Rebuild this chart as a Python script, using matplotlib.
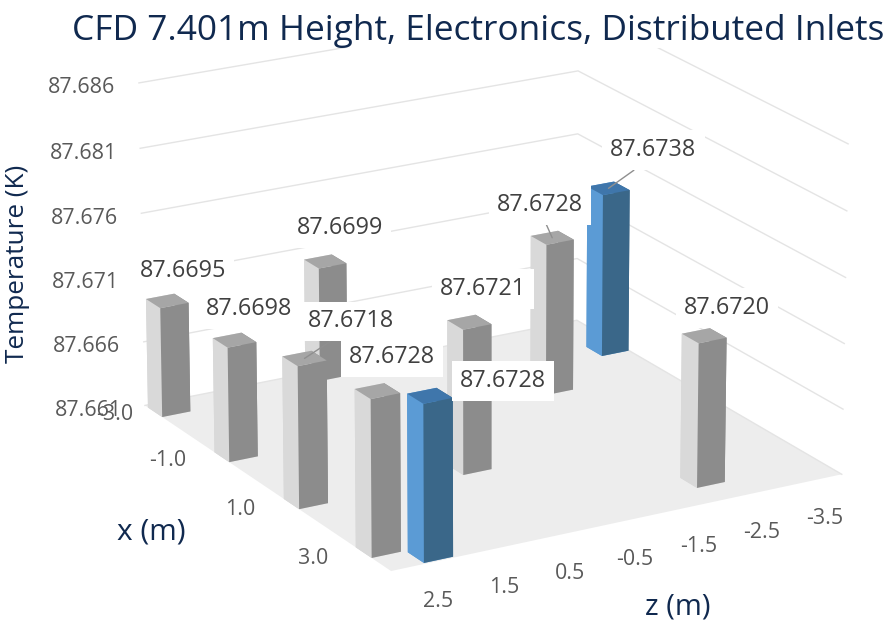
import numpy as np
import matplotlib
matplotlib.use("Agg")
import matplotlib.pyplot as plt
from matplotlib.patches import Rectangle
from mpl_toolkits.mplot3d import proj3d
from mpl_toolkits.mplot3d.art3d import Poly3DCollection

plt.rcParams["font.family"] = ["Open Sans", "DejaVu Sans"]

W, H = 888, 622

# probe locations and temperatures
bar_x = [-2.93, -0.99, 0.96, 2.91, 3.39, 0.96, -1.08, -2.02, 2.89, -3.09]
bar_z = [2.78, 2.78, 2.78, 2.78, 2.27, 0.25, -2.28, -3.77, -2.25, 0.20]
bar_temp = [87.6695, 87.6698, 87.6718, 87.6728, 87.6728, 87.6721, 87.6728, 87.6738, 87.6720, 87.6699]
highlight = [False, False, False, False, True, False, False, True, False, False]

temp_ticks = [87.661, 87.666, 87.671, 87.676, 87.681, 87.686]
x_ticks = [-3.0, -1.0, 1.0, 3.0]
z_ticks = [2.5, 1.5, 0.5, -0.5, -1.5, -2.5, -3.5]

# label placement relative to the top of each bar, in pixels (right, down)
label_dx = [16, 15, 47, 15, 73, 14, -12, 45, 23, 15]
label_dy = [-30, -31, -37, -34, -15, -33, -33, -38, -28, -33]
has_leader = [False, False, True, False, False, False, True, True, False, False]
x_tick_dx = [-38, -54, -53, -54]

Z_LO, Z_HI = -4.0, 3.0
X_LO, X_HI = -3.23, 3.63
T_LO, T_HI = temp_ticks[0], temp_ticks[-1]
BAR_W = 0.44
BAR_D = 0.42

# face order in bar3d: bottom, top, -y, +y, -x, +x
GREY = ["#D9D9D9", "#A6A6A6", "#D9D9D9", "#8C8C8C", "#8C8C8C", "#D9D9D9"]
BLUE = ["#5B9BD5", "#3F76AB", "#5B9BD5", "#3A6789", "#3A6789", "#5B9BD5"]
TICK = "#595959"
LABEL = "#404040"
NAVY = "#10294F"
GRID = "#E4E4E4"

fig = plt.figure(figsize=(W / 100, H / 100), dpi=100)
ax = fig.add_subplot(projection="3d")
ax.computed_zorder = False
ax.set_xlim(Z_LO, Z_HI, view_margin=0)
ax.set_ylim(X_LO, X_HI, view_margin=0)
ax.set_zlim(T_LO, T_HI, view_margin=0)
ax.view_init(19.58, 60.14)
ax.set_proj_type("persp", focal_length=1.5626)
ax.set_box_aspect((1.4807, 1.4953, 1.0))
S, cx, cy = 783.6, 478.0, 288.2
ax.set_position([(cx - S / 2) / W, (H - cy - S / 2) / H, S / W, S / H])
ax.set_axis_off()

# floor and wall gridlines
floor = [[(Z_HI, X_LO, T_LO), (Z_HI, X_HI, T_LO), (Z_LO, X_HI, T_LO), (Z_LO, X_LO, T_LO)]]
ax.add_collection3d(Poly3DCollection(floor, facecolors="#EDEDED", edgecolors="none", zorder=1))
for t in temp_ticks:
    ax.plot([Z_HI, Z_LO, Z_LO], [X_LO, X_LO, X_HI], [t, t, t], color=GRID, lw=1.0, zorder=2)

# columns, back to front
order = np.argsort(np.add(bar_x, bar_z))
for rank, i in enumerate(order):
    ax.bar3d(bar_z[i] - BAR_W / 2, bar_x[i] - BAR_D / 2, T_LO, BAR_W, BAR_D, bar_temp[i] - T_LO,
             color=BLUE if highlight[i] else GREY, shade=False, zorder=3 + rank, edgecolor="none")


def to_view(x3, y3, z3):
    xs, ys, _ = proj3d.proj_transform(x3, y3, z3, ax.get_proj())
    return xs, ys


def tag(text, point, dx, dy, size, color):
    ax.annotate(text, xy=to_view(*point), xytext=(dx, -dy), textcoords="offset pixels",
                ha="center", va="center", fontsize=size, color=color, zorder=60, annotation_clip=False)


for t in temp_ticks:
    tag(f"{t:.3f}", (Z_HI, X_LO, t), -57, 5, 15.4, TICK)
for x, dx in zip(x_ticks, x_tick_dx):
    tag(f"{x:.1f}", (Z_HI, x, T_LO), dx, 4, 15.4, TICK)
for z in z_ticks:
    tag(f"{z:.1f}", (z, X_HI, T_LO), 14, 38, 15.4, TICK)

# value labels sit on white boxes above every column
for i in range(len(bar_temp)):
    arrow = None
    if has_leader[i]:
        arrow = dict(arrowstyle="-", color="#8F8F8F", lw=1.0, shrinkA=0, shrinkB=0, relpos=(0.5, 0.25))
    ax.annotate(f"{bar_temp[i]:.4f}", xy=to_view(bar_z[i], bar_x[i], bar_temp[i]),
                xytext=(label_dx[i], -label_dy[i]), textcoords="offset pixels",
                ha="center", va="center", fontsize=16.8, color=LABEL, zorder=40 + i,
                bbox=dict(boxstyle="square,pad=0.34", fc="white", ec="none"),
                arrowprops=arrow, annotation_clip=False)

# the heading band hides whatever reaches above the plot
fig.add_artist(Rectangle((0, 1 - 48 / H), 1, 48 / H, transform=fig.transFigure, fc="white", ec="none", zorder=2))


def fig_text(px, py, text, size, **kw):
    fig.text(px / W, 1 - py / H, text, fontsize=size, color=NAVY, ha="center", va="center", zorder=3, **kw)


fig_text(478, 31, "CFD 7.401m Height, Electronics, Distributed Inlets", 25.4)
fig_text(18, 264, "Temperature (K)", 18.8, rotation=90)
fig_text(151, 532, "x (m)", 21.5)
fig_text(678, 607, "z (m)", 21.0)

fig.savefig("out.png", dpi=100)
